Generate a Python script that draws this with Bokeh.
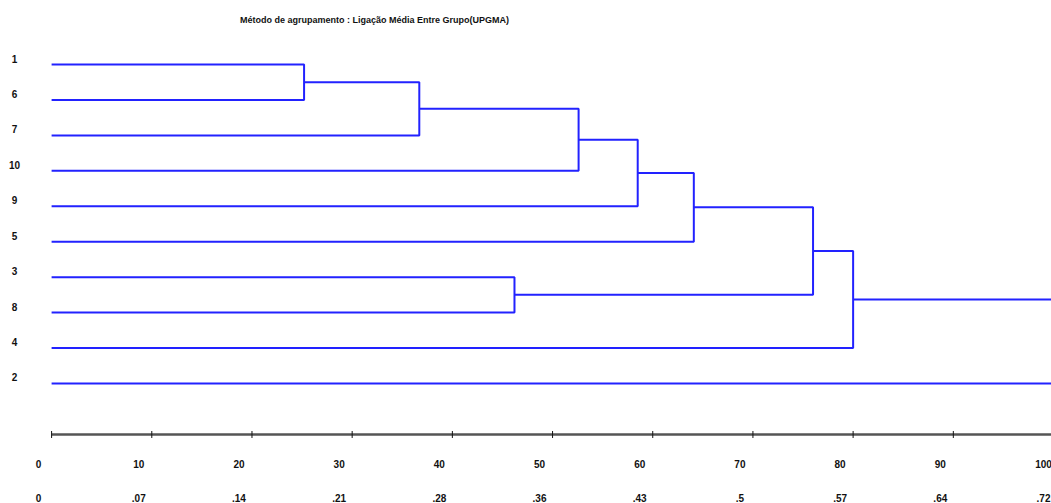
import math
from bokeh.plotting import figure
from bokeh.models import Range1d, ColumnDataSource, LabelSet, Label
from bokeh.core.properties import value
from bokeh.embed import file_html
from bokeh.resources import INLINE

# ---- data ----
leaves = ["1", "6", "7", "10", "9", "5", "3", "8", "4", "2"]
# merges (scipy-like): node ids 0..9 are leaves in display order, new nodes numbered from 10
merge_left = [0, 10, 11, 12, 13, 6, 14, 16, 17]
merge_right = [1, 2, 3, 4, 5, 7, 15, 8, 9]
merge_height = [25.2, 36.7, 52.6, 58.5, 64.1, 46.2, 76.0, 80.0, 100.0]

tick_values = [0, 10, 20, 30, 40, 50, 60, 70, 80, 90, 100]
tick_labels_rescaled = ["0", "10", "20", "30", "40", "50", "60", "70", "80", "90", "100"]
tick_labels_distance = ["0", ".07", ".14", ".21", ".28", ".36", ".43", ".5", ".57", ".64", ".72"]

title_text = "Método de agrupamento : Ligação Média Entre Grupo(UPGMA)"

# ---- layout ----
W, H = 1051, 503
FONT = "Liberation Sans"
LINE = "#2222ff"
TXT = "#111111"

p = figure(width=W, height=H, output_backend="svg", toolbar_location=None,
           x_range=Range1d(-5.1, 99.8), y_range=Range1d(12.387, -1.806),
           min_border=0, outline_line_color=None)
p.xaxis.visible = False
p.yaxis.visible = False
p.grid.visible = False
p.background_fill_color = "white"
p.border_fill_color = "white"

# compute dendrogram segments
pos = {i: float(i) for i in range(len(leaves))}
hgt = {i: 0.0 for i in range(len(leaves))}
xs, ys = [], []
for k, (a, b, h) in enumerate(zip(merge_left, merge_right, merge_height)):
    node = len(leaves) + k
    ya, yb = pos[a], pos[b]
    xs.append([hgt[a], h, h, hgt[b]])
    ys.append([ya, ya, yb, yb])
    pos[node] = (ya + yb) / 2.0
    hgt[node] = h

p.multi_line(xs=xs, ys=ys, line_color=LINE, line_width=2)

# bottom axis (drawn as line + tick marks)
axis_y = 10.44
p.line(x=[tick_values[0], tick_values[-1]], y=[axis_y, axis_y], line_color="#555555", line_width=2.5)
p.scatter(x=tick_values, y=[axis_y] * len(tick_values), marker="dash", angle=math.pi / 2,
          size=7, line_color="#111111", line_width=1)

# leaf labels
leaf_src = ColumnDataSource(dict(x=[-3.7] * len(leaves), y=list(range(len(leaves))), t=leaves))
p.add_layout(LabelSet(x="x", y="y", text="t", source=leaf_src, text_align="center",
                      text_baseline="middle", y_offset=6, text_font=value(FONT),
                      text_font_style="bold", text_font_size="10px", text_color=TXT))

# tick label rows
dx = [-13] * (len(tick_values) - 1) + [-10]
row1 = ColumnDataSource(dict(x=tick_values, y=[11.26] * len(tick_values), t=tick_labels_rescaled, dx=dx))
row2 = ColumnDataSource(dict(x=tick_values, y=[12.22] * len(tick_values), t=tick_labels_distance, dx=dx))
for src in (row1, row2):
    p.add_layout(LabelSet(x="x", y="y", text="t", source=src, text_align="center",
                          text_baseline="middle", x_offset="dx", text_font=value(FONT),
                          text_font_style="bold", text_font_size="10px", text_color=TXT))

# title
p.add_layout(Label(x=374, y=H - 19, x_units="screen", y_units="screen", text=title_text,
                   text_align="center", text_baseline="middle", text_font=FONT,
                   text_font_style="bold", text_font_size="9px", text_color=TXT))

open("out.html", "w").write(file_html(p, INLINE))
